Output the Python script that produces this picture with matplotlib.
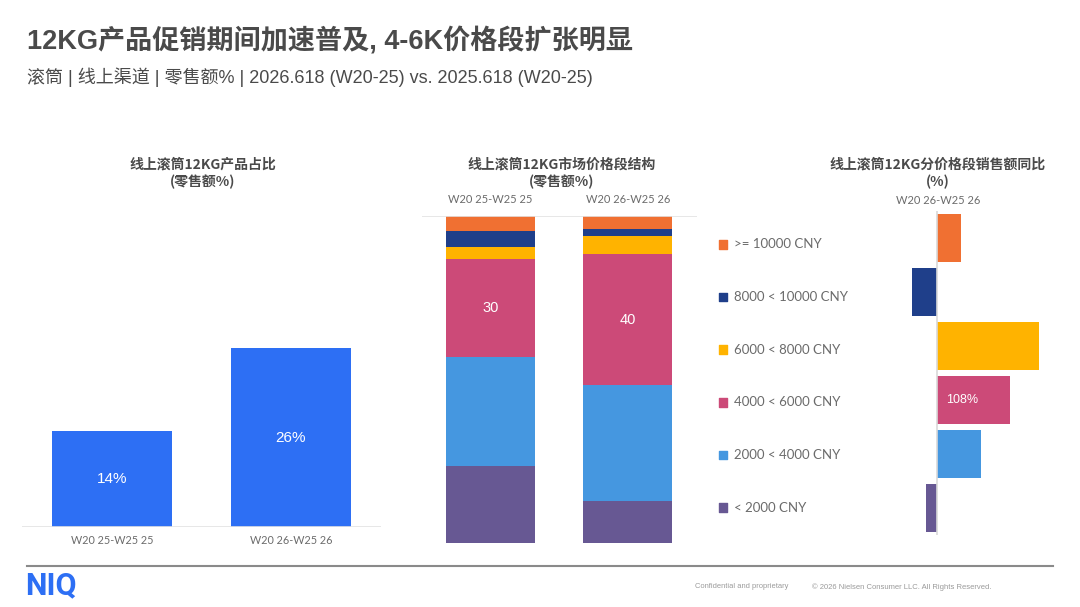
import matplotlib
matplotlib.use("Agg")
import matplotlib.pyplot as plt

# ---- data ----
periods = ["W20 25-W25 25", "W20 26-W25 26"]
share_12kg = [14, 26]

segments = ["< 2000 CNY", "2000 < 4000 CNY", "4000 < 6000 CNY",
            "6000 < 8000 CNY", "8000 < 10000 CNY", ">= 10000 CNY"]
seg_2025 = [23.5, 33.5, 30.0, 3.4, 5.0, 4.6]
seg_2026 = [12.8, 35.4, 40.2, 5.4, 2.1, 4.1]
seg_labels_2025 = ["", "", "30", "", "", ""]
seg_labels_2026 = ["", "", "40", "", "", ""]

yoy_growth = [-16, 65, 108, 151, -37, 35.5]   # same order as segments
yoy_labels = ["", "", "108%", "", "", ""]
yoy_period = "W20 26-W25 26"

seg_colors = ["#675893", "#4597E0", "#CC4A78", "#FFB300", "#1F3F8A", "#F07032"]

W, H = 1080, 607
CJK = ["Noto Sans CJK SC", "DejaVu Sans"]
MIX = ["Liberation Sans", "Noto Sans CJK SC"]
LAT = ["Lato", "DejaVu Sans"]
ARIAL = ["Liberation Sans", "DejaVu Sans"]
GRAY = "#6b6b6b"
TITLE_GRAY = "#4a4a4a"


def px_axes(fig, x0, y0, x1, y1):
    return fig.add_axes([x0 / W, 1 - y1 / H, (x1 - x0) / W, (y1 - y0) / H])


def clean(ax):
    for s in ax.spines.values():
        s.set_visible(False)
    ax.set_xticks([])
    ax.set_yticks([])
    ax.patch.set_alpha(0)


fig = plt.figure(figsize=(W / 100, H / 100), dpi=100)

# ---- titles ----
fig.text(27 / W, 1 - 41 / H, "12KG产品促销期间加速普及, 4-6K价格段扩张明显",
         family=MIX, fontsize=19.5, fontweight="bold", color=TITLE_GRAY,
         ha="left", va="center")
fig.text(27 / W, 1 - 77 / H,
         "滚筒 | 线上渠道 | 零售额% | 2026.618 (W20-25) vs. 2025.618 (W20-25)",
         family=MIX, fontsize=13, color=TITLE_GRAY, ha="left", va="center")

# ---- left: 12KG share ----
ax1 = px_axes(fig, 22, 200, 381, 527)
clean(ax1)
x = range(len(periods))
bars = ax1.bar(x, share_12kg, width=0.67, color="#2D6FF4")
ax1.set_xlim(-0.503, 1.503)
ax1.set_ylim(0, 47.5)
ax1.axhline(0, color="#e3e3e3", lw=1.2)
for b, v in zip(bars, share_12kg):
    ax1.text(b.get_x() + b.get_width() / 2, v / 2, f"{v}%", ha="center",
             va="center", color="white", fontsize=11, family=ARIAL)
for i, p in enumerate(periods):
    ax1.text(i, -2.0, p, ha="center", va="center", color=GRAY, fontsize=7.8,
             family=LAT)
fig.text(203 / W, 1 - 165 / H, "线上滚筒12KG产品占比", family=CJK, fontsize=10,
         fontweight="bold", color=TITLE_GRAY, ha="center", va="center")
fig.text(203 / W, 1 - 182 / H, "(零售额%)", family=CJK, fontsize=10,
         fontweight="bold", color=TITLE_GRAY, ha="center", va="center")

# ---- middle: price segment structure ----
ax2 = px_axes(fig, 422, 216, 697, 543)
clean(ax2)
for i, (vals, labs) in enumerate([(seg_2025, seg_labels_2025),
                                  (seg_2026, seg_labels_2026)]):
    bottom = 0
    for v, c, lab in zip(vals, seg_colors, labs):
        ax2.bar(i, v, bottom=bottom, width=0.648, color=c)
        if lab:
            ax2.text(i, bottom + v / 2, lab, ha="center", va="center",
                     color="white", fontsize=10.5, family=ARIAL)
        bottom += v
ax2.set_xlim(-0.499, 1.504)
ax2.set_ylim(0, 100)
ax2.axhline(100, color="#e3e3e3", lw=1.2)
for i, p in enumerate(periods):
    ax2.text(i, 105, p, ha="center", va="center", color=GRAY, fontsize=8,
             family=LAT, clip_on=False)
fig.text(562 / W, 1 - 165 / H, "线上滚筒12KG市场价格段结构", family=CJK,
         fontsize=10, fontweight="bold", color=TITLE_GRAY, ha="center",
         va="center")
fig.text(562 / W, 1 - 182 / H, "(零售额%)", family=CJK, fontsize=10,
         fontweight="bold", color=TITLE_GRAY, ha="center", va="center")

# ---- right: YoY by price segment ----
ax3 = px_axes(fig, 900, 211, 1050, 535)
clean(ax3)
ypos = list(range(len(segments)))
ax3.barh(ypos, yoy_growth, height=0.9, color=seg_colors)
ax3.set_ylim(-0.5, len(segments) - 0.5)
ax3.set_xlim(-54.3, 167.6)
ax3.axvline(0, color="#d9d9d9", lw=1.2)
for y, v, lab in zip(ypos, yoy_growth, yoy_labels):
    if lab:
        ax3.text(v * 0.35, y, lab, ha="center", va="center", color="white",
                 fontsize=9, family=ARIAL)

# legend-like category labels
ax4 = px_axes(fig, 715, 218, 900, 534)
clean(ax4)
ax4.set_ylim(-0.5, len(segments) - 0.5)
ax4.set_xlim(0, 185)
ax4.scatter([8] * len(segments), ypos, marker="s", s=40, c=seg_colors)
for y, s in zip(ypos, segments):
    ax4.text(19, y, s, ha="left", va="center", color=GRAY, fontsize=9.5,
             family=LAT)

fig.text(938 / W, 1 - 165 / H, "线上滚筒12KG分价格段销售额同比", family=CJK,
         fontsize=10, fontweight="bold", color=TITLE_GRAY, ha="center",
         va="center")
fig.text(938 / W, 1 - 182 / H, "(%)", family=CJK, fontsize=10,
         fontweight="bold", color=TITLE_GRAY, ha="center", va="center")
fig.text(938 / W, 1 - 200.5 / H, yoy_period, family=LAT, fontsize=8,
         color=GRAY, ha="center", va="center")

# ---- footer ----
fig.add_artist(plt.Line2D([27 / W, 1053 / W], [1 - 566 / H, 1 - 566 / H],
                          color="#8a8a8a", lw=1.5))
fig.text(25 / W, 1 - 585 / H, "NIQ", family=["Roboto", "DejaVu Sans"],
         fontsize=22, fontweight="bold", color="#2D6FF4", ha="left",
         va="center")
fig.text(695 / W, 1 - 587 / H, "Confidential and proprietary",
         family=ARIAL, fontsize=5.4, color="#9a9a9a", ha="left", va="center")
fig.text(812 / W, 1 - 587 / H,
         "\u00a9 2026 Nielsen Consumer LLC. All Rights Reserved.",
         family=ARIAL, fontsize=5.5, color="#9a9a9a", ha="left", va="center")

fig.savefig("out.png", dpi=100)
